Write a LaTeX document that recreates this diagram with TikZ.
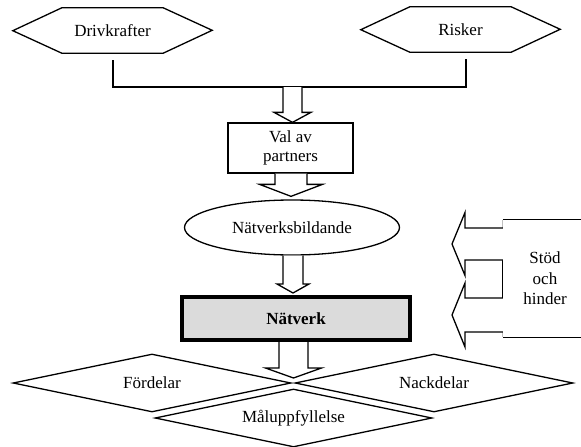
\documentclass[tikz,border=0pt]{standalone}
\usepackage{fontspec}
\setmainfont{Liberation Serif}
\usetikzlibrary{shapes.geometric,calc}

\tikzset{
  every node/.style={font=\fontsize{17}{20.5}\selectfont, inner sep=0pt},
  ln/.style={line width=1.3pt, line join=miter},
  blk/.style={ln, fill=white},
  hexbox/.style={minimum width=101pt, minimum height=45pt},
  rombe/.style={diamond, draw, ln, minimum width=278pt, minimum height=58pt, aspect=4.8},
}

% downward block arrow: open at the top, tip on the target
\newcommand\downblock[5]{%
  \draw[blk] let \p1=(#1), \p2=(#2) in
    (\x1-#3pt,\y1) -- (\x1-#3pt,\y2+#5pt) -- (\x1-#4pt,\y2+#5pt) -- (\x1,\y2)
    -- (\x1+#4pt,\y2+#5pt) -- (\x1+#3pt,\y2+#5pt) -- (\x1+#3pt,\y1);}
% leftward block arrow: open at the right, tip at the free end
\newcommand\leftblock[5]{%
  \draw[blk] let \p1=(#1), \p2=(#2) in
    (\x1,\y1+#3pt) -- (\x2+#5pt,\y1+#3pt) -- (\x2+#5pt,\y1+#4pt) -- (\x2,\y1)
    -- (\x2+#5pt,\y1-#4pt) -- (\x2+#5pt,\y1-#3pt) -- (\x1,\y1-#3pt);}

\begin{document}
\begin{tikzpicture}[x=1pt,y=-1pt]
\clip (0,0) rectangle (581,447);
\fill[white] (0,0) rectangle (581,447);

% hexagons
\node[hexbox] (drv) at (112.5,30.5) {Drivkrafter};
\draw[ln] (drv.north west) -- (drv.north east) -- ++(49,22.5) -- (drv.south east)
  -- (drv.south west) -- ++(-49,-22.5) -- cycle;
\node[hexbox] (risk) at (460.5,29.5) {Risker};
\draw[ln] (risk.north west) -- (risk.north east) -- ++(49,22.5) -- (risk.south east)
  -- (risk.south west) -- ++(-49,-22.5) -- cycle;

% joining line
\coordinate (jl) at (113,87);
\coordinate (jr) at (466,87);
\coordinate (jm) at (292.5,87);
\draw[ln] ([yshift=-7pt]drv.south -| jl) -- (jl) -- (jr) -- ([yshift=-7pt]risk.south -| jr);

% partner choice
\node[draw, ln, minimum width=125pt, minimum height=50pt, align=center] (val) at (290.5,148)
  {Val av\\[-1pt]partners};

% network forming
\node[ellipse, draw, ln, minimum width=215pt, minimum height=55pt] (bild) at (292,227.5)
  {Nätverksbildande};

% network
\node[draw, line width=4pt, fill=black!14, minimum width=228pt, minimum height=43pt,
  font=\fontsize{17}{20.5}\selectfont\bfseries] (nw) at (296,318.5) {Nätverk};

% support and hindrance
\node[minimum width=84pt, minimum height=117pt, align=center] (sh) at (545,278.5)
  {Stöd\\och\\hinder};
\draw[ln] (sh.north west) -- (sh.north east) -- (sh.south east) -- (sh.south west);
\draw[line width=0.8pt, black!25] (sh.north west) -- (sh.south west);
\coordinate (tipA) at (452,244);
\coordinate (tipB) at (452,315);
\draw[ln] (sh.west |- 0,260) -- (sh.west |- 0,298);
\leftblock{sh.west |- tipA}{tipA}{16}{31.5}{13}
\leftblock{sh.west |- tipB}{tipB}{17}{32}{13}

% outcomes
\node[rombe] (ford) at (152,383) {Fördelar};
\node[rombe] (nack) at (434,383) {Nackdelar};
\node[rombe, minimum width=277pt] (mal) at (293.5,418) {Måluppfyllelse};

% block arrows down the chain
\downblock{jm}{val.north}{9.5}{18.5}{10}
\downblock{[xshift=0.5pt]val.south}{[yshift=3pt]bild.north}{16}{31.5}{12}
\downblock{[xshift=1pt]bild.south}{[yshift=2pt]nw.north}{10}{16}{9}
\coordinate (tip4) at (293.5,378);
\downblock{[xshift=-2.5pt]nw.south}{tip4}{14.5}{28}{10}
\end{tikzpicture}
\end{document}
